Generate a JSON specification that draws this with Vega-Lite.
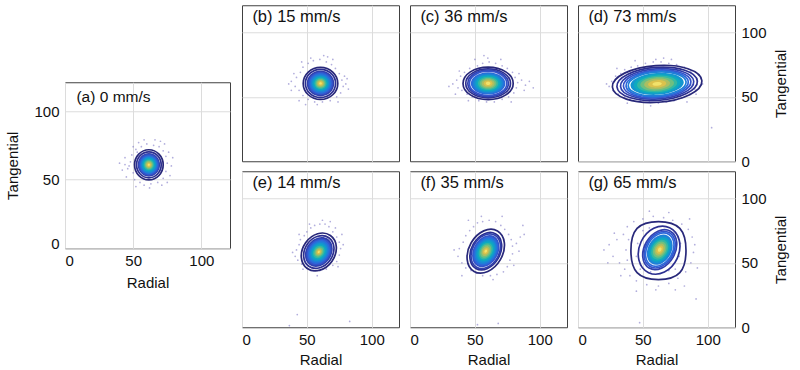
{
 "$schema": "https://vega.github.io/schema/vega-lite/v6.json",
 "padding": {"left": 5, "top": 4, "right": 5, "bottom": 1},
 "center": true,
 "spacing": 10,
 "config": {
  "font": "Liberation Sans",
  "view": {"stroke": "#404040", "strokeWidth": 1},
  "axis": {"labelFontSize": 15, "titleFontSize": 15, "titleFontWeight": "normal", "labelColor": "#111111", "titleColor": "#111111", "gridColor": "#dcdcdc", "gridWidth": 1, "domain": false, "ticks": false, "labelPadding": 6}
 },
 "datasets": {
  "ptext": [
   {"p": "a", "t": "(a) 0 mm/s"}, {"p": "b", "t": "(b) 15 mm/s"}, {"p": "c", "t": "(c) 36 mm/s"}, {"p": "d", "t": "(d) 73 mm/s"},
   {"p": "e", "t": "(e) 14 mm/s"}, {"p": "f", "t": "(f) 35 mm/s"}, {"p": "g", "t": "(g) 65 mm/s"}
  ],
  "cont": [
   {"p":"a","lv":1,"x":61.5,"y":60.8,"r":11.6},{"p":"a","lv":2,"x":61.5,"y":60.8,"r":10.0},{"p":"a","lv":3,"x":61.5,"y":60.8,"r":9.1},{"p":"a","lv":4,"x":61.5,"y":60.8,"r":8.3},{"p":"a","lv":5,"x":61.5,"y":60.8,"r":7.4},{"p":"a","lv":6,"x":61.5,"y":60.8,"r":6.6},{"p":"a","lv":7,"x":61.5,"y":60.8,"r":5.8},{"p":"a","lv":8,"x":61.5,"y":60.8,"r":5.0},{"p":"a","lv":9,"x":61.5,"y":60.8,"r":4.1},{"p":"a","lv":10,"x":61.5,"y":60.8,"r":3.3},{"p":"a","lv":11,"x":61.5,"y":60.8,"r":2.5},{"p":"a","lv":12,"x":61.5,"y":60.8,"r":1.7},{"p":"a","lv":13,"x":61.5,"y":60.8,"r":0.9},
   {"p":"b","lv":1,"x":60.5,"y":60.4,"r":13.3},{"p":"b","lv":2,"x":60.5,"y":60.4,"r":11.6},{"p":"b","lv":3,"x":60.5,"y":60.4,"r":10.6},{"p":"b","lv":4,"x":60.5,"y":60.4,"r":9.6},{"p":"b","lv":5,"x":60.5,"y":60.4,"r":8.6},{"p":"b","lv":6,"x":60.5,"y":60.4,"r":7.6},{"p":"b","lv":7,"x":60.5,"y":60.4,"r":6.6},{"p":"b","lv":8,"x":60.5,"y":60.4,"r":5.6},{"p":"b","lv":9,"x":60.5,"y":60.4,"r":4.6},{"p":"b","lv":10,"x":60.5,"y":60.4,"r":3.7},{"p":"b","lv":11,"x":60.5,"y":60.4,"r":2.8},{"p":"b","lv":12,"x":60.5,"y":60.4,"r":1.9},{"p":"b","lv":13,"x":60.5,"y":60.4,"r":1.0},
   {"p":"c","lv":1,"x":60.2,"y":60.4,"r":19.3},{"p":"c","lv":2,"x":60.2,"y":60.4,"r":17.2},{"p":"c","lv":3,"x":60.2,"y":60.4,"r":15.6},{"p":"c","lv":4,"x":60.2,"y":60.4,"r":14.4},{"p":"c","lv":5,"x":60.2,"y":60.4,"r":13.3},{"p":"c","lv":6,"x":60.2,"y":60.4,"r":12.0},{"p":"c","lv":7,"x":60.2,"y":60.4,"r":10.6},{"p":"c","lv":8,"x":60.2,"y":60.4,"r":9.2},{"p":"c","lv":9,"x":60.2,"y":60.4,"r":7.8},{"p":"c","lv":10,"x":60.2,"y":60.4,"r":6.4},{"p":"c","lv":11,"x":60.2,"y":60.4,"r":5.0},{"p":"c","lv":12,"x":60.2,"y":60.4,"r":3.4},{"p":"c","lv":13,"x":60.2,"y":60.4,"r":1.8},
   {"p":"d","lv":1,"x":61,"y":60,"r":34.5},{"p":"d","lv":2,"x":61,"y":60,"r":31.0},{"p":"d","lv":3,"x":61,"y":60,"r":28.2},{"p":"d","lv":4,"x":61,"y":60,"r":26.0},{"p":"d","lv":5,"x":61,"y":60,"r":24.0},{"p":"d","lv":6,"x":61,"y":60,"r":22.3},{"p":"d","lv":7,"x":61,"y":60,"r":20.5},{"p":"d","lv":8,"x":61,"y":60,"r":18.0},{"p":"d","lv":9,"x":61,"y":60,"r":15.5},{"p":"d","lv":10,"x":61,"y":60,"r":13.0},{"p":"d","lv":11,"x":61,"y":60,"r":10.0},{"p":"d","lv":12,"x":61,"y":60,"r":7.0},{"p":"d","lv":13,"x":61,"y":60,"r":3.6},
   {"p":"e","lv":1,"x":59.2,"y":58.4,"r":15.5},{"p":"e","lv":2,"x":59.2,"y":58.4,"r":13.4},{"p":"e","lv":3,"x":59.2,"y":58.4,"r":12.3},{"p":"e","lv":4,"x":59.2,"y":58.4,"r":11.1},{"p":"e","lv":5,"x":59.2,"y":58.4,"r":9.9},{"p":"e","lv":6,"x":59.2,"y":58.4,"r":8.7},{"p":"e","lv":7,"x":59.2,"y":58.4,"r":7.5},{"p":"e","lv":8,"x":59.2,"y":58.4,"r":6.3},{"p":"e","lv":9,"x":59.2,"y":58.4,"r":5.1},{"p":"e","lv":10,"x":59.2,"y":58.4,"r":3.9},{"p":"e","lv":11,"x":59.2,"y":58.4,"r":2.8},{"p":"e","lv":12,"x":59.2,"y":58.4,"r":1.8},{"p":"e","lv":13,"x":59.2,"y":58.4,"r":0.9},
   {"p":"f","lv":1,"x":58.4,"y":59,"r":18.0},{"p":"f","lv":2,"x":58.4,"y":59,"r":15.3},{"p":"f","lv":3,"x":58.4,"y":59,"r":14.2},{"p":"f","lv":4,"x":58.4,"y":59,"r":13.2},{"p":"f","lv":5,"x":58.4,"y":59,"r":12.0},{"p":"f","lv":6,"x":58.4,"y":59,"r":10.7},{"p":"f","lv":7,"x":58.4,"y":59,"r":9.4},{"p":"f","lv":8,"x":58.4,"y":59,"r":8.1},{"p":"f","lv":9,"x":58.4,"y":59,"r":6.8},{"p":"f","lv":10,"x":58.4,"y":59,"r":5.4},{"p":"f","lv":11,"x":58.4,"y":59,"r":4.0},{"p":"f","lv":12,"x":58.4,"y":59,"r":2.6},{"p":"f","lv":13,"x":58.4,"y":59,"r":1.3},
   {"p":"g","lv":1,"x":62,"y":59.5,"r":22.3},{"p":"g","lv":2,"x":62.5,"y":59.8,"r":19.1},{"p":"g","lv":3,"x":63,"y":60.2,"r":16.4},{"p":"g","lv":4,"x":63,"y":60.2,"r":15.0},{"p":"g","lv":5,"x":63,"y":60.2,"r":13.7},{"p":"g","lv":6,"x":63,"y":60.2,"r":12.4},{"p":"g","lv":7,"x":63,"y":60.2,"r":11.0},{"p":"g","lv":8,"x":63,"y":60.2,"r":9.6},{"p":"g","lv":9,"x":63,"y":60.2,"r":8.2},{"p":"g","lv":10,"x":63,"y":60.2,"r":6.6},{"p":"g","lv":11,"x":63,"y":60.2,"r":5.0},{"p":"g","lv":12,"x":63,"y":60.2,"r":3.4},{"p":"g","lv":13,"x":63,"y":60.2,"r":1.8}
  ],
  "dots": [
   {"p":"a","x":46,"y":58},{"p":"a","x":48,"y":63},{"p":"a","x":50,"y":55},{"p":"a","x":49,"y":68},{"p":"a","x":52,"y":72},{"p":"a","x":51,"y":50},{"p":"a","x":55,"y":48},{"p":"a","x":58,"y":46},{"p":"a","x":63,"y":47},{"p":"a","x":68,"y":48},{"p":"a","x":72,"y":51},{"p":"a","x":74,"y":56},{"p":"a","x":75,"y":62},{"p":"a","x":74,"y":67},{"p":"a","x":72,"y":71},{"p":"a","x":69,"y":74},{"p":"a","x":65,"y":75},{"p":"a","x":60,"y":76},{"p":"a","x":56,"y":74},{"p":"a","x":53,"y":70},{"p":"a","x":47,"y":60},{"p":"a","x":44,"y":61},{"p":"a","x":42,"y":57},{"p":"a","x":40,"y":62},{"p":"a","x":45,"y":52},{"p":"a","x":70,"y":78},{"p":"a","x":73,"y":76},{"p":"a","x":76,"y":70},{"p":"a","x":78,"y":60},{"p":"a","x":77,"y":53},{"p":"a","x":54,"y":77},{"p":"a","x":66,"y":79},{"p":"a","x":50,"y":74},{"p":"a","x":71,"y":46},{"p":"a","x":58,"y":79},{"p":"a","x":44,"y":66},{"p":"a","x":79,"y":66},{"p":"a","x":62,"y":44},{"p":"a","x":52,"y":45},{"p":"a","x":75,"y":48},
   {"p":"b","x":38,"y":62},{"p":"b","x":41,"y":58},{"p":"b","x":42,"y":65},{"p":"b","x":44,"y":55},{"p":"b","x":45,"y":69},{"p":"b","x":47,"y":51},{"p":"b","x":47,"y":73},{"p":"b","x":51,"y":76},{"p":"b","x":55,"y":78},{"p":"b","x":60,"y":79},{"p":"b","x":65,"y":77},{"p":"b","x":69,"y":75},{"p":"b","x":72,"y":72},{"p":"b","x":75,"y":68},{"p":"b","x":77,"y":63},{"p":"b","x":78,"y":58},{"p":"b","x":76,"y":53},{"p":"b","x":73,"y":50},{"p":"b","x":68,"y":47},{"p":"b","x":62,"y":46},{"p":"b","x":56,"y":46},{"p":"b","x":51,"y":48},{"p":"b","x":80,"y":60},{"p":"b","x":82,"y":56},{"p":"b","x":79,"y":66},{"p":"b","x":46,"y":77},{"p":"b","x":53,"y":80},{"p":"b","x":40,"y":68},{"p":"b","x":36,"y":60},{"p":"b","x":70,"y":79},{"p":"b","x":66,"y":81},{"p":"b","x":49,"y":44},{"p":"b","x":74,"y":46},{"p":"b","x":58,"y":44},{"p":"b","x":44,"y":47},{"p":"b","x":81,"y":64},{"p":"b","x":38,"y":55},{"p":"b","x":63,"y":82},
   {"p":"c","x":33,"y":60},{"p":"c","x":36,"y":63},{"p":"c","x":37,"y":57},{"p":"c","x":39,"y":66},{"p":"c","x":40,"y":55},{"p":"c","x":42,"y":69},{"p":"c","x":44,"y":52},{"p":"c","x":46,"y":72},{"p":"c","x":48,"y":50},{"p":"c","x":52,"y":74},{"p":"c","x":56,"y":76},{"p":"c","x":61,"y":77},{"p":"c","x":66,"y":76},{"p":"c","x":71,"y":74},{"p":"c","x":75,"y":72},{"p":"c","x":79,"y":69},{"p":"c","x":81,"y":65},{"p":"c","x":83,"y":61},{"p":"c","x":82,"y":57},{"p":"c","x":80,"y":53},{"p":"c","x":76,"y":50},{"p":"c","x":71,"y":48},{"p":"c","x":65,"y":46},{"p":"c","x":59,"y":46},{"p":"c","x":53,"y":47},{"p":"c","x":86,"y":63},{"p":"c","x":89,"y":59},{"p":"c","x":92,"y":62},{"p":"c","x":95,"y":57},{"p":"c","x":88,"y":55},{"p":"c","x":35,"y":52},{"p":"c","x":38,"y":70},{"p":"c","x":50,"y":79},{"p":"c","x":60,"y":80},{"p":"c","x":70,"y":79},{"p":"c","x":45,"y":47},{"p":"c","x":78,"y":46},{"p":"c","x":84,"y":68},{"p":"c","x":57,"y":82},{"p":"c","x":30,"y":58},
   {"p":"d","x":24,"y":58},{"p":"d","x":26,"y":62},{"p":"d","x":27,"y":55},{"p":"d","x":29,"y":66},{"p":"d","x":31,"y":52},{"p":"d","x":33,"y":68},{"p":"d","x":36,"y":71},{"p":"d","x":36,"y":50},{"p":"d","x":40,"y":48},{"p":"d","x":41,"y":73},{"p":"d","x":46,"y":74},{"p":"d","x":48,"y":47},{"p":"d","x":52,"y":76},{"p":"d","x":55,"y":46},{"p":"d","x":58,"y":77},{"p":"d","x":62,"y":45},{"p":"d","x":64,"y":77},{"p":"d","x":68,"y":46},{"p":"d","x":70,"y":76},{"p":"d","x":74,"y":47},{"p":"d","x":76,"y":75},{"p":"d","x":80,"y":49},{"p":"d","x":82,"y":73},{"p":"d","x":86,"y":52},{"p":"d","x":87,"y":70},{"p":"d","x":90,"y":56},{"p":"d","x":92,"y":62},{"p":"d","x":93,"y":67},{"p":"d","x":91,"y":52},{"p":"d","x":22,"y":60},{"p":"d","x":30,"y":72},{"p":"d","x":44,"y":78},{"p":"d","x":60,"y":79},{"p":"d","x":72,"y":79},{"p":"d","x":56,"y":43},{"p":"d","x":38,"y":45},{"p":"d","x":84,"y":46},{"p":"d","x":96,"y":60},{"p":"d","x":103,"y":26},{"p":"d","x":66,"y":80},
   {"p":"e","x":41,"y":55},{"p":"e","x":42,"y":60},{"p":"e","x":43,"y":52},{"p":"e","x":44,"y":64},{"p":"e","x":46,"y":49},{"p":"e","x":45,"y":68},{"p":"e","x":48,"y":71},{"p":"e","x":50,"y":74},{"p":"e","x":53,"y":77},{"p":"e","x":56,"y":79},{"p":"e","x":60,"y":80},{"p":"e","x":64,"y":80},{"p":"e","x":67,"y":78},{"p":"e","x":70,"y":74},{"p":"e","x":73,"y":70},{"p":"e","x":75,"y":66},{"p":"e","x":76,"y":61},{"p":"e","x":75,"y":56},{"p":"e","x":73,"y":51},{"p":"e","x":70,"y":48},{"p":"e","x":65,"y":45},{"p":"e","x":60,"y":44},{"p":"e","x":55,"y":44},{"p":"e","x":50,"y":46},{"p":"e","x":62,"y":83},{"p":"e","x":68,"y":82},{"p":"e","x":72,"y":77},{"p":"e","x":78,"y":64},{"p":"e","x":39,"y":58},{"p":"e","x":47,"y":45},{"p":"e","x":74,"y":47},{"p":"e","x":58,"y":40},{"p":"e","x":42.6,"y":9.8},{"p":"e","x":83,"y":4.5},{"p":"e","x":36.5,"y":1.3},{"p":"e","x":52,"y":80},{"p":"e","x":77,"y":72},{"p":"e","x":44,"y":72},
   {"p":"f","x":37,"y":55},{"p":"f","x":38,"y":61},{"p":"f","x":40,"y":50},{"p":"f","x":41,"y":66},{"p":"f","x":43,"y":46},{"p":"f","x":43,"y":71},{"p":"f","x":46,"y":75},{"p":"f","x":49,"y":78},{"p":"f","x":52,"y":81},{"p":"f","x":56,"y":82},{"p":"f","x":61,"y":83},{"p":"f","x":66,"y":82},{"p":"f","x":70,"y":79},{"p":"f","x":73,"y":76},{"p":"f","x":76,"y":72},{"p":"f","x":78,"y":68},{"p":"f","x":79,"y":63},{"p":"f","x":79,"y":57},{"p":"f","x":77,"y":52},{"p":"f","x":75,"y":47},{"p":"f","x":72,"y":43},{"p":"f","x":67,"y":41},{"p":"f","x":62,"y":40},{"p":"f","x":56,"y":40},{"p":"f","x":51,"y":42},{"p":"f","x":47,"y":44},{"p":"f","x":82,"y":65},{"p":"f","x":85,"y":70},{"p":"f","x":88,"y":72},{"p":"f","x":84,"y":59},{"p":"f","x":34,"y":60},{"p":"f","x":55,"y":86},{"p":"f","x":45,"y":83},{"p":"f","x":71,"y":86},{"p":"f","x":64,"y":37},{"p":"f","x":80,"y":48},{"p":"f","x":40,"y":40},{"p":"f","x":52,"y":2},{"p":"f","x":68,"y":3},{"p":"f","x":87,"y":79},
   {"p":"g","x":20,"y":60},{"p":"g","x":24,"y":64},{"p":"g","x":27,"y":55},{"p":"g","x":30,"y":68},{"p":"g","x":32,"y":50},{"p":"g","x":35,"y":72},{"p":"g","x":36,"y":45},{"p":"g","x":38,"y":78},{"p":"g","x":40,"y":40},{"p":"g","x":43,"y":82},{"p":"g","x":45,"y":36},{"p":"g","x":50,"y":84},{"p":"g","x":53,"y":33},{"p":"g","x":58,"y":86},{"p":"g","x":62,"y":32},{"p":"g","x":66,"y":85},{"p":"g","x":70,"y":34},{"p":"g","x":73,"y":83},{"p":"g","x":77,"y":38},{"p":"g","x":80,"y":80},{"p":"g","x":83,"y":43},{"p":"g","x":85,"y":76},{"p":"g","x":87,"y":50},{"p":"g","x":88,"y":70},{"p":"g","x":89,"y":58},{"p":"g","x":90,"y":64},{"p":"g","x":37,"y":60},{"p":"g","x":38,"y":52},{"p":"g","x":39,"y":68},{"p":"g","x":60,"y":29},{"p":"g","x":75,"y":29},{"p":"g","x":91,"y":22},{"p":"g","x":47.5,"y":3.5},{"p":"g","x":33,"y":40},{"p":"g","x":28,"y":73},{"p":"g","x":55,"y":90},{"p":"g","x":82,"y":32},{"p":"g","x":86,"y":84},{"p":"g","x":23,"y":50},{"p":"g","x":70,"y":89},{"p":"g","x":45,"y":28},{"p":"g","x":92,"y":46},{"p":"g","x":45,"y":55},{"p":"g","x":46,"y":65},{"p":"g","x":50,"y":75},{"p":"g","x":55,"y":77},{"p":"g","x":70,"y":44},{"p":"g","x":75,"y":45},{"p":"g","x":78,"y":55},{"p":"g","x":79,"y":65},{"p":"g","x":48,"y":45},{"p":"g","x":56,"y":43},{"p":"g","x":74,"y":73}
  ]
 },
 "hconcat": [
  {
   "width": 165, "height": 166,
   "layer": [
    {"data": {"name": "dots"}, "transform": [{"filter": "datum.p==='a'"}], "mark": {"type": "circle", "size": 3, "color": "#7f78c6", "opacity": 0.6},
     "encoding": {
      "x": {"field": "x", "type": "quantitative", "scale": {"domain": [0, 121], "nice": false}, "axis": {"values": [0, 50, 100], "title": "Radial", "labelPadding": 5, "titlePadding": 7}},
      "y": {"field": "y", "type": "quantitative", "scale": {"domain": [0, 121], "nice": false}, "axis": {"values": [0, 50, 100], "title": "Tangential", "labelPadding": 6, "titlePadding": 13, "labelFlush": true, "labelFlushOffset": 3}}}},
    {"data": {"name": "cont"}, "transform": [{"filter": "datum.p==='a' && datum.lv<=2"}], "mark": {"type": "point", "shape": "M0.95,0C0.95,0.552,0.525,1,0,1C-0.525,1,-0.95,0.552,-0.95,0C-0.95,-0.552,-0.525,-1,0,-1C0.525,-1,0.95,-0.552,0.95,0Z", "filled": false, "strokeWidth": 1.7, "opacity": 1},
     "encoding": {
      "x": {"field": "x", "type": "quantitative", "scale": {"domain": [0, 121], "nice": false}, "axis": {"values": [0, 50, 100], "title": "Radial", "labelPadding": 5, "titlePadding": 7}},
      "y": {"field": "y", "type": "quantitative", "scale": {"domain": [0, 121], "nice": false}, "axis": {"values": [0, 50, 100], "title": "Tangential", "labelPadding": 6, "titlePadding": 13, "labelFlush": true, "labelFlushOffset": 3}},
      "size": {"field": "r", "type": "quantitative", "scale": {"type": "pow", "exponent": 2, "domain": [0, 40], "range": [0, 10816]}, "legend": null}, "color": {"field": "lv", "type": "ordinal", "scale": {"domain": [1,2,3,4,5,6,7,8,9,10,11,12,13], "range": ["#28287a","#2c2f90","#3040ac","#3553c9","#2d68da","#1f7fd8","#1495cf","#0eaabf","#35b8a2","#6fbf80","#abbe62","#dcc24c","#f2e26a"]}, "legend": null}}},
    {"data": {"name": "cont"}, "transform": [{"filter": "datum.p==='a' && datum.lv>2"}], "mark": {"type": "point", "shape": "M0.95,0C0.95,0.552,0.525,1,0,1C-0.525,1,-0.95,0.552,-0.95,0C-0.95,-0.552,-0.525,-1,0,-1C0.525,-1,0.95,-0.552,0.95,0Z", "filled": true, "opacity": 1},
     "encoding": {
      "x": {"field": "x", "type": "quantitative", "scale": {"domain": [0, 121], "nice": false}, "axis": {"values": [0, 50, 100], "title": "Radial", "labelPadding": 5, "titlePadding": 7}},
      "y": {"field": "y", "type": "quantitative", "scale": {"domain": [0, 121], "nice": false}, "axis": {"values": [0, 50, 100], "title": "Tangential", "labelPadding": 6, "titlePadding": 13, "labelFlush": true, "labelFlushOffset": 3}},
      "size": {"field": "r", "type": "quantitative", "scale": {"type": "pow", "exponent": 2, "domain": [0, 40], "range": [0, 10816]}, "legend": null}, "color": {"field": "lv", "type": "ordinal", "scale": {"domain": [1,2,3,4,5,6,7,8,9,10,11,12,13], "range": ["#28287a","#2c2f90","#3040ac","#3553c9","#2d68da","#1f7fd8","#1495cf","#0eaabf","#35b8a2","#6fbf80","#abbe62","#dcc24c","#f2e26a"]}, "legend": null}}},
    {"data": {"name": "ptext"}, "transform": [{"filter": "datum.p==='a'"}], "mark": {"type": "text", "align": "left", "baseline": "middle", "fontSize": 15.5, "color": "#111111"},
     "encoding": {
      "x": {"datum": 8.4, "type": "quantitative", "scale": {"domain": [0, 121], "nice": false}, "axis": {"values": [0, 50, 100], "title": "Radial", "labelPadding": 5, "titlePadding": 7}},
      "y": {"datum": 110, "type": "quantitative", "scale": {"domain": [0, 121], "nice": false}, "axis": {"values": [0, 50, 100], "title": "Tangential", "labelPadding": 6, "titlePadding": 13, "labelFlush": true, "labelFlushOffset": 3}},
      "text": {"field": "t", "type": "nominal"}}}
   ]
  },
  {
   "spacing": 0,
   "vconcat": [
    {
     "bounds": "flush",
     "spacing": 11,
     "hconcat": [
      {
       "width": 157, "height": 156,
       "layer": [
        {"data": {"name": "dots"}, "transform": [{"filter": "datum.p==='b'"}], "mark": {"type": "circle", "size": 3, "color": "#7f78c6", "opacity": 0.6},
         "encoding": {
          "x": {"field": "x", "type": "quantitative", "scale": {"domain": [0, 121], "nice": false}, "axis": {"values": [50, 100], "labels": false, "title": null}},
          "y": {"field": "y", "type": "quantitative", "scale": {"domain": [0, 121], "nice": false}, "axis": {"values": [50, 100], "labels": false, "title": null}}}},
        {"data": {"name": "cont"}, "transform": [{"filter": "datum.p==='b' && datum.lv<=2"}], "mark": {"type": "point", "shape": "M1,0C1,0.514,0.552,0.93,0,0.93C-0.552,0.93,-1,0.514,-1,0C-1,-0.514,-0.552,-0.93,0,-0.93C0.552,-0.93,1,-0.514,1,0Z", "filled": false, "strokeWidth": 1.7, "opacity": 1},
         "encoding": {
          "x": {"field": "x", "type": "quantitative", "scale": {"domain": [0, 121], "nice": false}, "axis": {"values": [50, 100], "labels": false, "title": null}},
          "y": {"field": "y", "type": "quantitative", "scale": {"domain": [0, 121], "nice": false}, "axis": {"values": [50, 100], "labels": false, "title": null}},
          "size": {"field": "r", "type": "quantitative", "scale": {"type": "pow", "exponent": 2, "domain": [0, 40], "range": [0, 10816]}, "legend": null}, "color": {"field": "lv", "type": "ordinal", "scale": {"domain": [1,2,3,4,5,6,7,8,9,10,11,12,13], "range": ["#28287a","#2c2f90","#3040ac","#3553c9","#2d68da","#1f7fd8","#1495cf","#0eaabf","#35b8a2","#6fbf80","#abbe62","#dcc24c","#f2e26a"]}, "legend": null}}},
        {"data": {"name": "cont"}, "transform": [{"filter": "datum.p==='b' && datum.lv>2"}], "mark": {"type": "point", "shape": "M1,0C1,0.514,0.552,0.93,0,0.93C-0.552,0.93,-1,0.514,-1,0C-1,-0.514,-0.552,-0.93,0,-0.93C0.552,-0.93,1,-0.514,1,0Z", "filled": true, "opacity": 1},
         "encoding": {
          "x": {"field": "x", "type": "quantitative", "scale": {"domain": [0, 121], "nice": false}, "axis": {"values": [50, 100], "labels": false, "title": null}},
          "y": {"field": "y", "type": "quantitative", "scale": {"domain": [0, 121], "nice": false}, "axis": {"values": [50, 100], "labels": false, "title": null}},
          "size": {"field": "r", "type": "quantitative", "scale": {"type": "pow", "exponent": 2, "domain": [0, 40], "range": [0, 10816]}, "legend": null}, "color": {"field": "lv", "type": "ordinal", "scale": {"domain": [1,2,3,4,5,6,7,8,9,10,11,12,13], "range": ["#28287a","#2c2f90","#3040ac","#3553c9","#2d68da","#1f7fd8","#1495cf","#0eaabf","#35b8a2","#6fbf80","#abbe62","#dcc24c","#f2e26a"]}, "legend": null}}},
        {"data": {"name": "ptext"}, "transform": [{"filter": "datum.p==='b'"}], "mark": {"type": "text", "align": "left", "baseline": "middle", "fontSize": 16.5, "color": "#111111"},
         "encoding": {
          "x": {"datum": 8, "type": "quantitative", "scale": {"domain": [0, 121], "nice": false}, "axis": {"values": [50, 100], "labels": false, "title": null}},
          "y": {"datum": 111.5, "type": "quantitative", "scale": {"domain": [0, 121], "nice": false}, "axis": {"values": [50, 100], "labels": false, "title": null}},
          "text": {"field": "t", "type": "nominal"}}}
       ]
      },
      {
       "width": 157, "height": 156,
       "layer": [
        {"data": {"name": "dots"}, "transform": [{"filter": "datum.p==='c'"}], "mark": {"type": "circle", "size": 3, "color": "#7f78c6", "opacity": 0.6},
         "encoding": {
          "x": {"field": "x", "type": "quantitative", "scale": {"domain": [0, 121], "nice": false}, "axis": {"values": [50, 100], "labels": false, "title": null}},
          "y": {"field": "y", "type": "quantitative", "scale": {"domain": [0, 121], "nice": false}, "axis": {"values": [50, 100], "labels": false, "title": null}}}},
        {"data": {"name": "cont"}, "transform": [{"filter": "datum.p==='c' && datum.lv<=4"}], "mark": {"type": "point", "shape": "M1,0C1,0.359,0.552,0.65,0,0.65C-0.552,0.65,-1,0.359,-1,0C-1,-0.359,-0.552,-0.65,0,-0.65C0.552,-0.65,1,-0.359,1,0Z", "filled": false, "strokeWidth": 1.7, "opacity": 1},
         "encoding": {
          "x": {"field": "x", "type": "quantitative", "scale": {"domain": [0, 121], "nice": false}, "axis": {"values": [50, 100], "labels": false, "title": null}},
          "y": {"field": "y", "type": "quantitative", "scale": {"domain": [0, 121], "nice": false}, "axis": {"values": [50, 100], "labels": false, "title": null}},
          "size": {"field": "r", "type": "quantitative", "scale": {"type": "pow", "exponent": 2, "domain": [0, 40], "range": [0, 10816]}, "legend": null}, "color": {"field": "lv", "type": "ordinal", "scale": {"domain": [1,2,3,4,5,6,7,8,9,10,11,12,13], "range": ["#28287a","#2c2f90","#3040ac","#3553c9","#2d68da","#1f7fd8","#1495cf","#0eaabf","#35b8a2","#6fbf80","#abbe62","#dcc24c","#f2e26a"]}, "legend": null}}},
        {"data": {"name": "cont"}, "transform": [{"filter": "datum.p==='c' && datum.lv>4"}], "mark": {"type": "point", "shape": "M1,0C1,0.359,0.552,0.65,0,0.65C-0.552,0.65,-1,0.359,-1,0C-1,-0.359,-0.552,-0.65,0,-0.65C0.552,-0.65,1,-0.359,1,0Z", "filled": true, "opacity": 1},
         "encoding": {
          "x": {"field": "x", "type": "quantitative", "scale": {"domain": [0, 121], "nice": false}, "axis": {"values": [50, 100], "labels": false, "title": null}},
          "y": {"field": "y", "type": "quantitative", "scale": {"domain": [0, 121], "nice": false}, "axis": {"values": [50, 100], "labels": false, "title": null}},
          "size": {"field": "r", "type": "quantitative", "scale": {"type": "pow", "exponent": 2, "domain": [0, 40], "range": [0, 10816]}, "legend": null}, "color": {"field": "lv", "type": "ordinal", "scale": {"domain": [1,2,3,4,5,6,7,8,9,10,11,12,13], "range": ["#28287a","#2c2f90","#3040ac","#3553c9","#2d68da","#1f7fd8","#1495cf","#0eaabf","#35b8a2","#6fbf80","#abbe62","#dcc24c","#f2e26a"]}, "legend": null}}},
        {"data": {"name": "ptext"}, "transform": [{"filter": "datum.p==='c'"}], "mark": {"type": "text", "align": "left", "baseline": "middle", "fontSize": 16.5, "color": "#111111"},
         "encoding": {
          "x": {"datum": 8, "type": "quantitative", "scale": {"domain": [0, 121], "nice": false}, "axis": {"values": [50, 100], "labels": false, "title": null}},
          "y": {"datum": 111.5, "type": "quantitative", "scale": {"domain": [0, 121], "nice": false}, "axis": {"values": [50, 100], "labels": false, "title": null}},
          "text": {"field": "t", "type": "nominal"}}}
       ]
      },
      {
       "width": 157, "height": 156,
       "layer": [
        {"data": {"name": "dots"}, "transform": [{"filter": "datum.p==='d'"}], "mark": {"type": "circle", "size": 3, "color": "#7f78c6", "opacity": 0.6},
         "encoding": {
          "x": {"field": "x", "type": "quantitative", "scale": {"domain": [0, 121], "nice": false}, "axis": {"values": [50, 100], "labels": false, "title": null}},
          "y": {"field": "y", "type": "quantitative", "scale": {"domain": [0, 121], "nice": false}, "axis": {"orient": "right", "values": [0, 50, 100], "title": "Tangential", "titleAngle": 270, "titleBaseline": "top", "labelPadding": 6, "titlePadding": 7}}}},
        {"data": {"name": "cont"}, "transform": [{"filter": "datum.p==='d' && datum.lv<=6"}], "mark": {"type": "point", "shape": "M0.998,-0.07C1.013,0.156,0.58,0.371,0.029,0.409C-0.522,0.448,-0.982,0.296,-0.998,0.07C-1.013,-0.156,-0.58,-0.371,-0.029,-0.409C0.522,-0.448,0.982,-0.296,0.998,-0.07Z", "filled": false, "strokeWidth": 1.7, "opacity": 1},
         "encoding": {
          "x": {"field": "x", "type": "quantitative", "scale": {"domain": [0, 121], "nice": false}, "axis": {"values": [50, 100], "labels": false, "title": null}},
          "y": {"field": "y", "type": "quantitative", "scale": {"domain": [0, 121], "nice": false}, "axis": {"orient": "right", "values": [0, 50, 100], "title": "Tangential", "titleAngle": 270, "titleBaseline": "top", "labelPadding": 6, "titlePadding": 7}},
          "size": {"field": "r", "type": "quantitative", "scale": {"type": "pow", "exponent": 2, "domain": [0, 40], "range": [0, 10816]}, "legend": null}, "color": {"field": "lv", "type": "ordinal", "scale": {"domain": [1,2,3,4,5,6,7,8,9,10,11,12,13], "range": ["#28287a","#2c2f90","#3040ac","#3553c9","#2d68da","#1f7fd8","#1495cf","#0eaabf","#35b8a2","#6fbf80","#abbe62","#dcc24c","#f2e26a"]}, "legend": null}}},
        {"data": {"name": "cont"}, "transform": [{"filter": "datum.p==='d' && datum.lv>6"}], "mark": {"type": "point", "shape": "M0.998,-0.07C1.013,0.156,0.58,0.371,0.029,0.409C-0.522,0.448,-0.982,0.296,-0.998,0.07C-1.013,-0.156,-0.58,-0.371,-0.029,-0.409C0.522,-0.448,0.982,-0.296,0.998,-0.07Z", "filled": true, "opacity": 1},
         "encoding": {
          "x": {"field": "x", "type": "quantitative", "scale": {"domain": [0, 121], "nice": false}, "axis": {"values": [50, 100], "labels": false, "title": null}},
          "y": {"field": "y", "type": "quantitative", "scale": {"domain": [0, 121], "nice": false}, "axis": {"orient": "right", "values": [0, 50, 100], "title": "Tangential", "titleAngle": 270, "titleBaseline": "top", "labelPadding": 6, "titlePadding": 7}},
          "size": {"field": "r", "type": "quantitative", "scale": {"type": "pow", "exponent": 2, "domain": [0, 40], "range": [0, 10816]}, "legend": null}, "color": {"field": "lv", "type": "ordinal", "scale": {"domain": [1,2,3,4,5,6,7,8,9,10,11,12,13], "range": ["#28287a","#2c2f90","#3040ac","#3553c9","#2d68da","#1f7fd8","#1495cf","#0eaabf","#35b8a2","#6fbf80","#abbe62","#dcc24c","#f2e26a"]}, "legend": null}}},
        {"data": {"name": "ptext"}, "transform": [{"filter": "datum.p==='d'"}], "mark": {"type": "text", "align": "left", "baseline": "middle", "fontSize": 16.5, "color": "#111111"},
         "encoding": {
          "x": {"datum": 8, "type": "quantitative", "scale": {"domain": [0, 121], "nice": false}, "axis": {"values": [50, 100], "labels": false, "title": null}},
          "y": {"datum": 111.5, "type": "quantitative", "scale": {"domain": [0, 121], "nice": false}, "axis": {"orient": "right", "values": [0, 50, 100], "title": "Tangential", "titleAngle": 270, "titleBaseline": "top", "labelPadding": 6, "titlePadding": 7}},
          "text": {"field": "t", "type": "nominal"}}}
       ]
      }
     ]
    },
    {
     "bounds": "flush",
     "spacing": 11,
     "hconcat": [
      {
       "width": 157, "height": 156,
       "layer": [
        {"data": {"name": "dots"}, "transform": [{"filter": "datum.p==='e'"}], "mark": {"type": "circle", "size": 3, "color": "#7f78c6", "opacity": 0.6},
         "encoding": {
          "x": {"field": "x", "type": "quantitative", "scale": {"domain": [0, 121], "nice": false}, "axis": {"values": [0, 50, 100], "title": "Radial", "labelPadding": 5, "titlePadding": 5}},
          "y": {"field": "y", "type": "quantitative", "scale": {"domain": [0, 121], "nice": false}, "axis": {"values": [50, 100], "labels": false, "title": null}}}},
        {"data": {"name": "cont"}, "transform": [{"filter": "datum.p==='e' && datum.lv<=2"}], "mark": {"type": "point", "shape": "M0.574,-0.819C0.936,-0.566,0.972,0.007,0.655,0.459C0.339,0.911,-0.212,1.073,-0.574,0.819C-0.936,0.566,-0.972,-0.007,-0.655,-0.459C-0.339,-0.911,0.212,-1.073,0.574,-0.819Z", "filled": false, "strokeWidth": 1.7, "opacity": 1},
         "encoding": {
          "x": {"field": "x", "type": "quantitative", "scale": {"domain": [0, 121], "nice": false}, "axis": {"values": [0, 50, 100], "title": "Radial", "labelPadding": 5, "titlePadding": 5}},
          "y": {"field": "y", "type": "quantitative", "scale": {"domain": [0, 121], "nice": false}, "axis": {"values": [50, 100], "labels": false, "title": null}},
          "size": {"field": "r", "type": "quantitative", "scale": {"type": "pow", "exponent": 2, "domain": [0, 40], "range": [0, 10816]}, "legend": null}, "color": {"field": "lv", "type": "ordinal", "scale": {"domain": [1,2,3,4,5,6,7,8,9,10,11,12,13], "range": ["#28287a","#2c2f90","#3040ac","#3553c9","#2d68da","#1f7fd8","#1495cf","#0eaabf","#35b8a2","#6fbf80","#abbe62","#dcc24c","#f2e26a"]}, "legend": null}}},
        {"data": {"name": "cont"}, "transform": [{"filter": "datum.p==='e' && datum.lv>2"}], "mark": {"type": "point", "shape": "M0.574,-0.819C0.936,-0.566,0.972,0.007,0.655,0.459C0.339,0.911,-0.212,1.073,-0.574,0.819C-0.936,0.566,-0.972,-0.007,-0.655,-0.459C-0.339,-0.911,0.212,-1.073,0.574,-0.819Z", "filled": true, "opacity": 1},
         "encoding": {
          "x": {"field": "x", "type": "quantitative", "scale": {"domain": [0, 121], "nice": false}, "axis": {"values": [0, 50, 100], "title": "Radial", "labelPadding": 5, "titlePadding": 5}},
          "y": {"field": "y", "type": "quantitative", "scale": {"domain": [0, 121], "nice": false}, "axis": {"values": [50, 100], "labels": false, "title": null}},
          "size": {"field": "r", "type": "quantitative", "scale": {"type": "pow", "exponent": 2, "domain": [0, 40], "range": [0, 10816]}, "legend": null}, "color": {"field": "lv", "type": "ordinal", "scale": {"domain": [1,2,3,4,5,6,7,8,9,10,11,12,13], "range": ["#28287a","#2c2f90","#3040ac","#3553c9","#2d68da","#1f7fd8","#1495cf","#0eaabf","#35b8a2","#6fbf80","#abbe62","#dcc24c","#f2e26a"]}, "legend": null}}},
        {"data": {"name": "ptext"}, "transform": [{"filter": "datum.p==='e'"}], "mark": {"type": "text", "align": "left", "baseline": "middle", "fontSize": 16.5, "color": "#111111"},
         "encoding": {
          "x": {"datum": 8, "type": "quantitative", "scale": {"domain": [0, 121], "nice": false}, "axis": {"values": [0, 50, 100], "title": "Radial", "labelPadding": 5, "titlePadding": 5}},
          "y": {"datum": 111.5, "type": "quantitative", "scale": {"domain": [0, 121], "nice": false}, "axis": {"values": [50, 100], "labels": false, "title": null}},
          "text": {"field": "t", "type": "nominal"}}}
       ]
      },
      {
       "width": 157, "height": 156,
       "layer": [
        {"data": {"name": "dots"}, "transform": [{"filter": "datum.p==='f'"}], "mark": {"type": "circle", "size": 3, "color": "#7f78c6", "opacity": 0.6},
         "encoding": {
          "x": {"field": "x", "type": "quantitative", "scale": {"domain": [0, 121], "nice": false}, "axis": {"values": [0, 50, 100], "title": "Radial", "labelPadding": 5, "titlePadding": 5}},
          "y": {"field": "y", "type": "quantitative", "scale": {"domain": [0, 121], "nice": false}, "axis": {"values": [50, 100], "labels": false, "title": null}}}},
        {"data": {"name": "cont"}, "transform": [{"filter": "datum.p==='f' && datum.lv<=3"}], "mark": {"type": "point", "shape": "M0.5,-0.866C0.844,-0.667,0.9,-0.118,0.624,0.36C0.347,0.838,-0.156,1.065,-0.5,0.866C-0.844,0.667,-0.9,0.118,-0.624,-0.36C-0.347,-0.838,0.156,-1.065,0.5,-0.866Z", "filled": false, "strokeWidth": 1.7, "opacity": 1},
         "encoding": {
          "x": {"field": "x", "type": "quantitative", "scale": {"domain": [0, 121], "nice": false}, "axis": {"values": [0, 50, 100], "title": "Radial", "labelPadding": 5, "titlePadding": 5}},
          "y": {"field": "y", "type": "quantitative", "scale": {"domain": [0, 121], "nice": false}, "axis": {"values": [50, 100], "labels": false, "title": null}},
          "size": {"field": "r", "type": "quantitative", "scale": {"type": "pow", "exponent": 2, "domain": [0, 40], "range": [0, 10816]}, "legend": null}, "color": {"field": "lv", "type": "ordinal", "scale": {"domain": [1,2,3,4,5,6,7,8,9,10,11,12,13], "range": ["#28287a","#2c2f90","#3040ac","#3553c9","#2d68da","#1f7fd8","#1495cf","#0eaabf","#35b8a2","#6fbf80","#abbe62","#dcc24c","#f2e26a"]}, "legend": null}}},
        {"data": {"name": "cont"}, "transform": [{"filter": "datum.p==='f' && datum.lv>3"}], "mark": {"type": "point", "shape": "M0.5,-0.866C0.844,-0.667,0.9,-0.118,0.624,0.36C0.347,0.838,-0.156,1.065,-0.5,0.866C-0.844,0.667,-0.9,0.118,-0.624,-0.36C-0.347,-0.838,0.156,-1.065,0.5,-0.866Z", "filled": true, "opacity": 1},
         "encoding": {
          "x": {"field": "x", "type": "quantitative", "scale": {"domain": [0, 121], "nice": false}, "axis": {"values": [0, 50, 100], "title": "Radial", "labelPadding": 5, "titlePadding": 5}},
          "y": {"field": "y", "type": "quantitative", "scale": {"domain": [0, 121], "nice": false}, "axis": {"values": [50, 100], "labels": false, "title": null}},
          "size": {"field": "r", "type": "quantitative", "scale": {"type": "pow", "exponent": 2, "domain": [0, 40], "range": [0, 10816]}, "legend": null}, "color": {"field": "lv", "type": "ordinal", "scale": {"domain": [1,2,3,4,5,6,7,8,9,10,11,12,13], "range": ["#28287a","#2c2f90","#3040ac","#3553c9","#2d68da","#1f7fd8","#1495cf","#0eaabf","#35b8a2","#6fbf80","#abbe62","#dcc24c","#f2e26a"]}, "legend": null}}},
        {"data": {"name": "ptext"}, "transform": [{"filter": "datum.p==='f'"}], "mark": {"type": "text", "align": "left", "baseline": "middle", "fontSize": 16.5, "color": "#111111"},
         "encoding": {
          "x": {"datum": 8, "type": "quantitative", "scale": {"domain": [0, 121], "nice": false}, "axis": {"values": [0, 50, 100], "title": "Radial", "labelPadding": 5, "titlePadding": 5}},
          "y": {"datum": 111.5, "type": "quantitative", "scale": {"domain": [0, 121], "nice": false}, "axis": {"values": [50, 100], "labels": false, "title": null}},
          "text": {"field": "t", "type": "nominal"}}}
       ]
      },
      {
       "width": 157, "height": 156,
       "layer": [
        {"data": {"name": "dots"}, "transform": [{"filter": "datum.p==='g'"}], "mark": {"type": "circle", "size": 3, "color": "#7f78c6", "opacity": 0.6},
         "encoding": {
          "x": {"field": "x", "type": "quantitative", "scale": {"domain": [0, 121], "nice": false}, "axis": {"values": [0, 50, 100], "title": "Radial", "labelPadding": 5, "titlePadding": 5}},
          "y": {"field": "y", "type": "quantitative", "scale": {"domain": [0, 121], "nice": false}, "axis": {"orient": "right", "values": [0, 50, 100], "title": "Tangential", "titleAngle": 270, "titleBaseline": "top", "labelPadding": 6, "titlePadding": 7}}}},
        {"data": {"name": "cont"}, "transform": [{"filter": "datum.p==='g' && datum.lv==1"}], "mark": {"type": "point", "shape": "M0.95,0C0.95,0.7,0.7,1,0,1C-0.7,1,-0.95,0.7,-0.95,0C-0.95,-0.7,-0.7,-1,0,-1C0.7,-1,0.95,-0.7,0.95,0Z", "filled": false, "strokeWidth": 1.7, "opacity": 1},
         "encoding": {
          "x": {"field": "x", "type": "quantitative", "scale": {"domain": [0, 121], "nice": false}, "axis": {"values": [0, 50, 100], "title": "Radial", "labelPadding": 5, "titlePadding": 5}},
          "y": {"field": "y", "type": "quantitative", "scale": {"domain": [0, 121], "nice": false}, "axis": {"orient": "right", "values": [0, 50, 100], "title": "Tangential", "titleAngle": 270, "titleBaseline": "top", "labelPadding": 6, "titlePadding": 7}},
          "size": {"field": "r", "type": "quantitative", "scale": {"type": "pow", "exponent": 2, "domain": [0, 40], "range": [0, 10816]}, "legend": null}, "color": {"field": "lv", "type": "ordinal", "scale": {"domain": [1,2,3,4,5,6,7,8,9,10,11,12,13], "range": ["#28287a","#2c2f90","#3040ac","#3553c9","#2d68da","#1f7fd8","#1495cf","#0eaabf","#35b8a2","#6fbf80","#abbe62","#dcc24c","#f2e26a"]}, "legend": null}}},
        {"data": {"name": "cont"}, "transform": [{"filter": "datum.p==='g' && datum.lv==2"}], "mark": {"type": "point", "shape": "M0.423,-0.906C0.823,-0.72,0.958,-0.162,0.725,0.338C0.492,0.839,-0.022,1.093,-0.423,0.906C-0.823,0.72,-0.958,0.162,-0.725,-0.338C-0.492,-0.839,0.022,-1.093,0.423,-0.906Z", "filled": false, "strokeWidth": 1.7, "opacity": 1},
         "encoding": {
          "x": {"field": "x", "type": "quantitative", "scale": {"domain": [0, 121], "nice": false}, "axis": {"values": [0, 50, 100], "title": "Radial", "labelPadding": 5, "titlePadding": 5}},
          "y": {"field": "y", "type": "quantitative", "scale": {"domain": [0, 121], "nice": false}, "axis": {"orient": "right", "values": [0, 50, 100], "title": "Tangential", "titleAngle": 270, "titleBaseline": "top", "labelPadding": 6, "titlePadding": 7}},
          "size": {"field": "r", "type": "quantitative", "scale": {"type": "pow", "exponent": 2, "domain": [0, 40], "range": [0, 10816]}, "legend": null}, "color": {"field": "lv", "type": "ordinal", "scale": {"domain": [1,2,3,4,5,6,7,8,9,10,11,12,13], "range": ["#28287a","#2c2f90","#3040ac","#3553c9","#2d68da","#1f7fd8","#1495cf","#0eaabf","#35b8a2","#6fbf80","#abbe62","#dcc24c","#f2e26a"]}, "legend": null}}},
        {"data": {"name": "cont"}, "transform": [{"filter": "datum.p==='g' && datum.lv>=3 && datum.lv<=5"}], "mark": {"type": "point", "shape": "M0.5,-0.866C0.844,-0.667,0.9,-0.118,0.624,0.36C0.347,0.838,-0.156,1.065,-0.5,0.866C-0.844,0.667,-0.9,0.118,-0.624,-0.36C-0.347,-0.838,0.156,-1.065,0.5,-0.866Z", "filled": false, "strokeWidth": 1.7, "opacity": 1},
         "encoding": {
          "x": {"field": "x", "type": "quantitative", "scale": {"domain": [0, 121], "nice": false}, "axis": {"values": [0, 50, 100], "title": "Radial", "labelPadding": 5, "titlePadding": 5}},
          "y": {"field": "y", "type": "quantitative", "scale": {"domain": [0, 121], "nice": false}, "axis": {"orient": "right", "values": [0, 50, 100], "title": "Tangential", "titleAngle": 270, "titleBaseline": "top", "labelPadding": 6, "titlePadding": 7}},
          "size": {"field": "r", "type": "quantitative", "scale": {"type": "pow", "exponent": 2, "domain": [0, 40], "range": [0, 10816]}, "legend": null}, "color": {"field": "lv", "type": "ordinal", "scale": {"domain": [1,2,3,4,5,6,7,8,9,10,11,12,13], "range": ["#28287a","#2c2f90","#3040ac","#3553c9","#2d68da","#1f7fd8","#1495cf","#0eaabf","#35b8a2","#6fbf80","#abbe62","#dcc24c","#f2e26a"]}, "legend": null}}},
        {"data": {"name": "cont"}, "transform": [{"filter": "datum.p==='g' && datum.lv>5"}], "mark": {"type": "point", "shape": "M0.5,-0.866C0.844,-0.667,0.9,-0.118,0.624,0.36C0.347,0.838,-0.156,1.065,-0.5,0.866C-0.844,0.667,-0.9,0.118,-0.624,-0.36C-0.347,-0.838,0.156,-1.065,0.5,-0.866Z", "filled": true, "opacity": 1},
         "encoding": {
          "x": {"field": "x", "type": "quantitative", "scale": {"domain": [0, 121], "nice": false}, "axis": {"values": [0, 50, 100], "title": "Radial", "labelPadding": 5, "titlePadding": 5}},
          "y": {"field": "y", "type": "quantitative", "scale": {"domain": [0, 121], "nice": false}, "axis": {"orient": "right", "values": [0, 50, 100], "title": "Tangential", "titleAngle": 270, "titleBaseline": "top", "labelPadding": 6, "titlePadding": 7}},
          "size": {"field": "r", "type": "quantitative", "scale": {"type": "pow", "exponent": 2, "domain": [0, 40], "range": [0, 10816]}, "legend": null}, "color": {"field": "lv", "type": "ordinal", "scale": {"domain": [1,2,3,4,5,6,7,8,9,10,11,12,13], "range": ["#28287a","#2c2f90","#3040ac","#3553c9","#2d68da","#1f7fd8","#1495cf","#0eaabf","#35b8a2","#6fbf80","#abbe62","#dcc24c","#f2e26a"]}, "legend": null}}},
        {"data": {"name": "ptext"}, "transform": [{"filter": "datum.p==='g'"}], "mark": {"type": "text", "align": "left", "baseline": "middle", "fontSize": 16.5, "color": "#111111"},
         "encoding": {
          "x": {"datum": 8, "type": "quantitative", "scale": {"domain": [0, 121], "nice": false}, "axis": {"values": [0, 50, 100], "title": "Radial", "labelPadding": 5, "titlePadding": 5}},
          "y": {"datum": 111.5, "type": "quantitative", "scale": {"domain": [0, 121], "nice": false}, "axis": {"orient": "right", "values": [0, 50, 100], "title": "Tangential", "titleAngle": 270, "titleBaseline": "top", "labelPadding": 6, "titlePadding": 7}},
          "text": {"field": "t", "type": "nominal"}}}
       ]
      }
     ]
    }
   ]
  }
 ]
}
